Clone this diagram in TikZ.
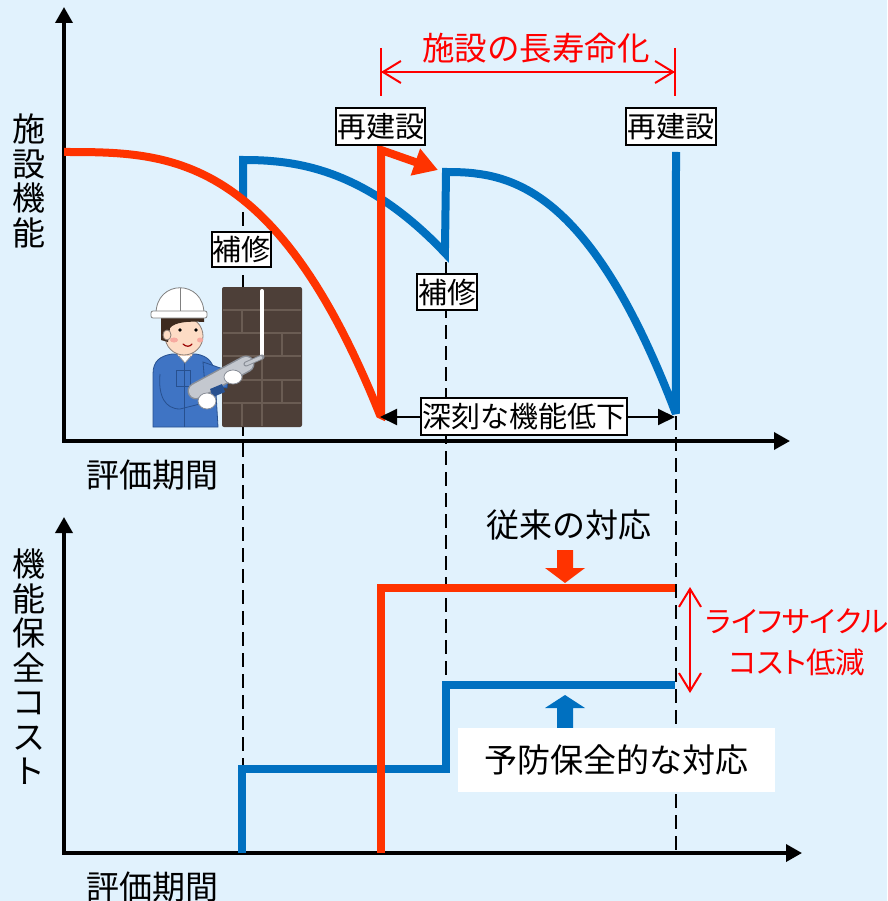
\documentclass[tikz,border=0pt]{standalone}
\usepackage{fontspec}
\setmainfont{Noto Sans CJK JP}
\newfontfamily\jpprop[RawFeature=+palt]{Noto Sans CJK JP}
\usetikzlibrary{arrows.meta}

\definecolor{bgblue}{RGB}{225,242,253}
\definecolor{convred}{RGB}{255,51,0}
\definecolor{prevblue}{RGB}{0,112,192}
\definecolor{textred}{RGB}{255,0,0}
\definecolor{wallbrown}{RGB}{77,63,56}
\definecolor{mortar}{RGB}{106,92,83}
\definecolor{skin}{RGB}{253,220,197}
\definecolor{hair}{RGB}{61,42,30}
\definecolor{suit}{RGB}{63,116,196}
\definecolor{suitdark}{RGB}{39,80,143}
\definecolor{gunlight}{RGB}{196,200,207}
\definecolor{gundark}{RGB}{138,143,152}
\definecolor{cheek}{RGB}{247,170,160}

\newcommand\fsz[2]{\fontsize{#1}{#2}\selectfont}

\begin{document}
\begin{tikzpicture}[x=1pt,y=-1pt,
  axisline/.style={line width=3.5, line join=miter,
    {Triangle[length=16,width=17]}-{Triangle[length=16,width=17]}},
  curve/.style={line width=8, line join=miter, miter limit=3},
  guide/.style={line width=2, dash pattern=on 14 off 7},
  tagbox/.style={draw=black, line width=1.6, fill=white, inner sep=0,
    font=\fsz{29}{32}},
  axlabel/.style={inner sep=0, font=\fsz{33}{34.5}, align=center},
  dimred/.style={textred, line width=2},
  outline/.style={line width=0.8}]

% canvas
\fill[bgblue] (0,0) rectangle (887,901);
\useasboundingbox (0,0) rectangle (887,901);

% vertical guide lines through both charts
\draw[guide] (243,212) -- (243,767);
\draw[guide] (446,262) -- (446,683);
\draw[guide] (676,395) -- (676,853);

% ---------- upper chart: facility performance ----------
\draw[axisline] (64,7) -- (64,441) -- (790,441);
\node[axlabel] (perf) at (29,181) {施\\設\\機\\能};
\node[axlabel] (period1) at (152,475) {評価期間};

% worker sealing a brick wall
\fill[wallbrown, rounded corners=2] (222,287) rectangle (302,427);
\foreach \yy in {310,333,356,380,403}
  \draw[mortar, line width=1.2] (223,\yy) -- (301,\yy);
\draw[mortar, line width=1.2] (262,356) -- (262,426);
\draw[mortar, line width=1.2] (242,310) -- (242,333) (282,333) -- (282,356)
  (242,356) -- (242,380) (282,380) -- (282,403) (242,403) -- (242,426);
\draw[white, line width=4, line cap=round] (262,291) -- (262,356);
% body
\filldraw[fill=suit, draw=suitdark, outline]
  (153,427) -- (153,374) .. controls (153,361) and (160,356) .. (172,354)
  -- (196,354) .. controls (208,356) and (214,362) .. (215,376)
  -- (218,427) -- cycle;
\draw[suitdark, outline] (160,374) .. controls (158,396) and (165,409) .. (180,409) -- (200,404);
\draw[suitdark, outline] (176,370) rectangle (190,386);
\draw[suitdark, outline] (184,362) -- (184,427);
\filldraw[fill=white, draw=gundark, outline] (177,354) -- (185,363) -- (193,354) -- cycle;
% sleeve of the forward arm
\filldraw[fill=suit, draw=suitdark, outline] (203,362) -- (229,371) -- (227,388) -- (205,386) -- cycle;
% head
\fill[skin] (178,346) rectangle (192,356);
\filldraw[fill=skin, draw=hair!60, outline] (184,336) ellipse [x radius=19, y radius=19];
\fill[hair] (161,316) -- (204,316) -- (204,322) .. controls (188,321) and (175,322) .. (170,328)
  -- (168,342) -- (161,340) -- cycle;
\filldraw[fill=skin, draw=hair!60, outline] (167,335) ellipse [x radius=4, y radius=5];
\fill[black] (180,330) circle (1.9) (196,330) circle (1.9);
\fill[cheek] (174,340) ellipse [x radius=4, y radius=2.5] (200,340) ellipse [x radius=3, y radius=2.5];
\draw[red!60!black, line width=1.2, line cap=round] (183,344) .. controls (186,347) and (190,347) .. (192,344);
% helmet
\filldraw[fill=white, draw=gray, outline] (156,314) .. controls (156,279) and (204,279) .. (204,314) -- cycle;
\filldraw[fill=white, draw=gray, outline, rounded corners=2] (151,311) rectangle (207,318);
\draw[gray, outline] (180,288) -- (180,311);
% caulking gun
\draw[gundark, line width=17, line cap=round] (196,391) -- (246,364);
\draw[gunlight, line width=14, line cap=round] (196,391) -- (246,364);
\draw[gundark, line width=5, line cap=round] (246,364) -- (262,357);
\draw[gunlight, line width=3, line cap=round] (246,364) -- (261,357.5);
\fill[suitdark] (210,389) -- (222,384) -- (225,392) -- (213,397) -- cycle;
% gloves
\filldraw[fill=white, draw=gundark, outline] (233,377) ellipse [x radius=9, y radius=7];
\filldraw[fill=white, draw=gundark, outline] (207,401) ellipse [x radius=9, y radius=8];

% preventive maintenance curve
\draw[prevblue, curve] (243,200) -- (243,160)
  -- plot[domain=0:1, samples=50, variable=\t] ({243+202*\t},{160+93*\t^2.3})
  -- (446,172)
  -- plot[domain=0:1, samples=60, variable=\t] ({446+230*\t},{172+242*\t^2.5})
  -- (676,152);

% conventional (reactive) curve with rebuild
\coordinate (rebuildtop) at (381,150);
\coordinate (rebuildtip) at (438,170);
\draw[convred, curve, -{Triangle[length=24,width=27]}]
  plot[domain=0:1, samples=60, variable=\t] ({64+316*\t},{152+263*\t^3})
  -- (381,415) -- (rebuildtop) -- (rebuildtip);

% labels on the upper chart
\node[tagbox, minimum width=89, minimum height=37] (rb1) at (380.5,126.5) {再建設};
\node[tagbox, minimum width=90, minimum height=37] (rb2) at (671,126.5) {再建設};
\node[tagbox, minimum width=59, minimum height=35] (rp1) at (241.5,249.5) {補修};
\node[tagbox, minimum width=60, minimum height=36] (rp2) at (447,292) {補修};

\coordinate (dropL) at (380,417);
\coordinate (dropR) at (675,417);
\draw[line width=2, {Triangle[length=17,width=16]}-{Triangle[length=17,width=16]}] (dropL) -- (dropR);
\node[tagbox, minimum width=206, minimum height=37] (drop) at (524,416.5) {深刻な機能低下};

% service-life extension dimension
\coordinate (lifeL) at (381,72);
\coordinate (lifeR) at (675,72);
\draw[dimred] (381,48) -- (381,96) (675,48) -- (675,96);
\draw[dimred, {Straight Barb[length=18,width=22]}-{Straight Barb[length=18,width=22]}] (lifeL) -- (lifeR);
\node[inner sep=0, text=textred, font=\fsz{32.5}{34}] (life) at (536,48) {施設の長寿命化};

% ---------- lower chart: maintenance cost ----------
\draw[axisline] (64,517) -- (64,853) -- (802,853);
\node[axlabel] (cost) at (29,667) {機\\能\\保\\全\\コ\\ス\\ト};
\node[axlabel] (period2) at (152,887) {評価期間};

\draw[prevblue, curve] (242,853) -- (242,769) -- (446,769) -- (446,685) -- (675,685);
\draw[convred, curve] (381,853) -- (381,588) -- (675,588);

% annotations
\node[inner sep=0, font=\fsz{33}{34}] (conv) at (569,525) {従来の対応};
\fill[convred] (557,550) -- (573,550) -- (573,568) -- (585,568) -- (565,583)
  -- (545,568) -- (557,568) -- cycle;
\fill[prevblue] (557,735) -- (557,708) -- (545,708) -- (565,695) -- (585,708)
  -- (573,708) -- (573,735) -- cycle;
\node[fill=white, inner sep=0, minimum width=317, minimum height=64,
  font=\fsz{33}{36}] (prev) at (616.5,760) {予防保全的な対応};

\coordinate (lccTop) at (690,587);
\coordinate (lccBot) at (690,693);
\draw[dimred, {Straight Barb[length=18,width=22]}-{Straight Barb[length=18,width=22]}] (lccTop) -- (lccBot);
\node[inner sep=0, text=textred, align=center, font=\jpprop\fsz{29.5}{41}] (lcc) at (797,642)
  {ライフサイクル\\コスト低減};
\end{tikzpicture}
\end{document}
